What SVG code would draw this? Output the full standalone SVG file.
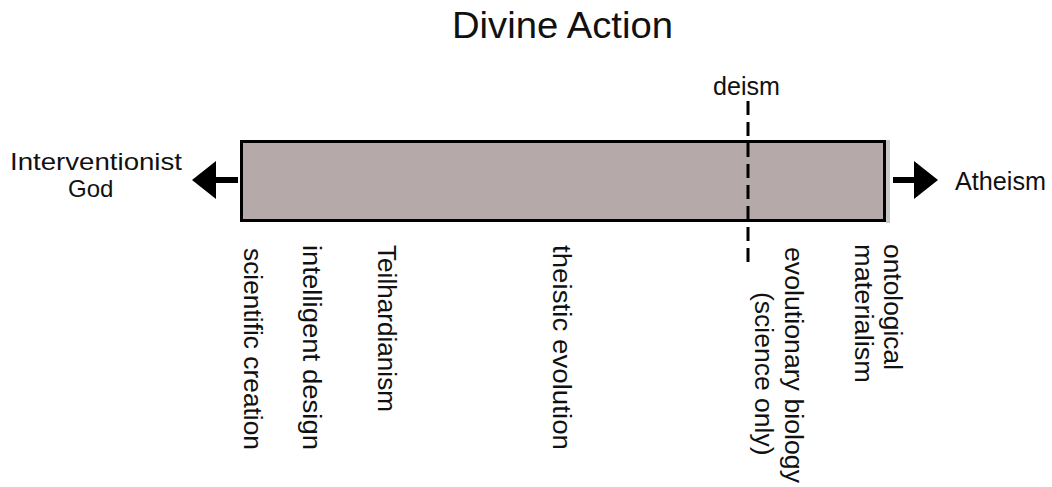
<svg xmlns="http://www.w3.org/2000/svg" width="1052" height="487" viewBox="0 0 1052 487">
<style>
text { font-family: "Liberation Sans", Arial, sans-serif; fill: #111; }
.lbl { font-size: 26.5px; }
.side { font-size: 24px; }
.conn { stroke: #000; stroke-width: 6; fill: none; }
.dash { stroke: #000; stroke-width: 3; stroke-dasharray: 14 7; fill: none; }
</style>
<defs>
<marker id="ah" markerUnits="userSpaceOnUse" markerWidth="26" markerHeight="40" viewBox="0 0 26 40" refX="0" refY="19" orient="auto">
<path d="M0,0 L24,19 L0,38 z" fill="#000"/>
</marker>
</defs>
<rect width="1052" height="487" fill="#fff"/>
<text id="title" x="452" y="38" font-size="37" textLength="221" lengthAdjust="spacingAndGlyphs">Divine Action</text>
<g id="spectrum">
<rect x="886" y="140" width="4" height="83" fill="#c6c6c6"/>
<rect x="241.5" y="141.5" width="643" height="79" fill="#b5aaa9" stroke="#000" stroke-width="3"/>
</g>
<g id="interventionist">
<text class="side" x="10" y="170" textLength="172" lengthAdjust="spacingAndGlyphs">Interventionist</text>
<text class="side" x="68" y="197">God</text>
</g>
<g id="atheism">
<text x="955" y="190" font-size="26" textLength="91" lengthAdjust="spacingAndGlyphs">Atheism</text>
</g>
<g id="deism">
<text x="713" y="95" font-size="26" textLength="67" lengthAdjust="spacingAndGlyphs">deism</text>
</g>
<g id="connectors">
<line class="conn" x1="238" y1="180" x2="216" y2="180" marker-end="url(#ah)"/>
<line class="conn" x1="893" y1="180" x2="914" y2="180" marker-end="url(#ah)"/>
<line class="dash" x1="748" y1="101" x2="748" y2="262"/>
</g>
<g id="scientific-creation">
<text class="lbl" transform="translate(244,248) rotate(90)" textLength="202" lengthAdjust="spacingAndGlyphs">scientific creation</text>
</g>
<g id="intelligent-design">
<text class="lbl" transform="translate(303,245) rotate(90)" textLength="205" lengthAdjust="spacingAndGlyphs">intelligent design</text>
</g>
<g id="teilhardianism">
<text class="lbl" transform="translate(378,245) rotate(90)" textLength="167" lengthAdjust="spacingAndGlyphs">Teilhardianism</text>
</g>
<g id="theistic-evolution">
<text class="lbl" transform="translate(553,245) rotate(90)" textLength="205" lengthAdjust="spacingAndGlyphs">theistic evolution</text>
</g>
<g id="evolutionary-biology">
<text class="lbl" transform="translate(785,247) rotate(90)" textLength="236" lengthAdjust="spacingAndGlyphs">evolutionary biology</text>
<text class="lbl" transform="translate(755,292) rotate(90)">(science only)</text>
</g>
<g id="ontological-materialism">
<text class="lbl" transform="translate(884,244) rotate(90)" textLength="126" lengthAdjust="spacingAndGlyphs">ontological</text>
<text class="lbl" transform="translate(855,244) rotate(90)" textLength="139" lengthAdjust="spacingAndGlyphs">materialism</text>
</g>
</svg>
